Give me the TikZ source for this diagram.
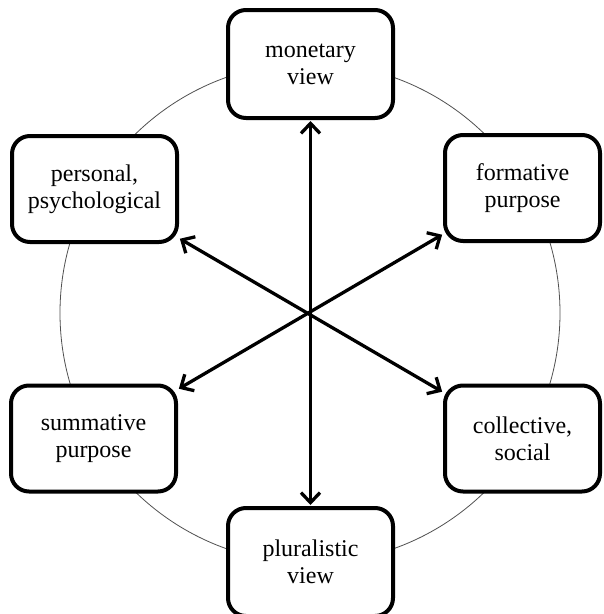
\documentclass[tikz,border=0pt]{standalone}
\usepackage{fontspec}
\setmainfont{Liberation Serif}
\usetikzlibrary{arrows.meta}

\begin{document}
\begin{tikzpicture}[x=1pt,y=-1pt,
    viewbox/.style={
      draw=black,
      line width=4pt,
      rounded corners=18pt,
      fill=white,
      align=center,
      inner sep=0pt,
      minimum height=106pt,
      minimum width=165pt,
      font=\fontsize{24}{27}\selectfont
    },
    link/.style={
      <->,
      line width=3.3pt,
      >={Straight Barb[length=10pt,width=19pt]},
      shorten >=1pt,
      shorten <=1pt
    }]

\definecolor{ringgray}{RGB}{80,80,80}

\useasboundingbox (0,0) rectangle (604,614);

\coordinate (c) at (310,313);
\draw[ringgray,line width=0.8pt] (c) circle[radius=250pt];

\node[viewbox, minimum height=108pt] (mv) at (310.5,64) {monetary\\view};
\node[viewbox] (pp) at (94.5,189) {personal,\\psychological};
\node[viewbox, minimum width=155pt] (fp) at (522.5,188) {formative\\purpose};
\node[viewbox] (sp) at (93.5,438.5) {summative\\purpose};
\node[viewbox, minimum width=155pt] (cs) at (522.5,438.5) {collective,\\social};
\node[viewbox, minimum height=108pt] (pv) at (310.5,562) {pluralistic\\view};

\draw[link] (mv) -- (pv);
\draw[link] (pp) -- (cs);
\draw[link] (sp) -- (fp);

\end{tikzpicture}
\end{document}
